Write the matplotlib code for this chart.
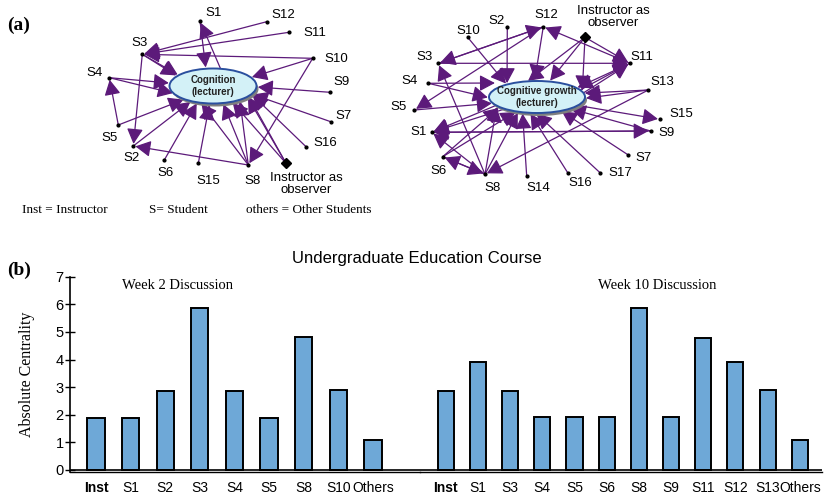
import matplotlib
matplotlib.use('Agg')
import matplotlib.pyplot as plt
from matplotlib.patches import Ellipse, FancyArrowPatch

plt.rcParams['font.family'] = 'Liberation Sans'

# ---- bar chart data (absolute centrality) ----
wk2_labels = ['Inst', 'S1', 'S2', 'S3', 'S4', 'S5', 'S8', 'S10', 'Others']
wk2_vals = [1.88, 1.88, 2.85, 5.85, 2.85, 1.9, 4.8, 2.9, 1.07]
wk10_labels = ['Inst', 'S1', 'S3', 'S4', 'S5', 'S6', 'S8', 'S9', 'S11', 'S12', 'S13', 'Others']
wk10_vals = [2.87, 3.9, 2.87, 1.92, 1.92, 1.92, 5.87, 1.92, 4.78, 3.9, 2.88, 1.1]

# ---- network (a) left: week 2 ----
left_edges = [('S1', 'L', (-5, 0)), ('L', 'S1', (15, 0)),
              ('S12', 'S3'), ('S11', 'S3'), ('S10', 'S3'),
              ('S10', 'L', (10, 0)), ('S10', 'S8'),
              ('S3', 'L', (-20, 0)), ('S3', 'L', (-5, 6)), ('S3', 'S2'),
              ('S4', 'L', (-10, 0)), ('S4', 'L', (-20, 12)),
              ('S5', 'S4'), ('S5', 'L', (-15, 8)),
              ('S2', 'L', (-15, 10)), ('S6', 'L', (-12, 10)), ('S15', 'L', (0, 0)),
              ('S8', 'L', (-25, 0)), ('S8', 'L', (3, 0)), ('S8', 'L', (25, 0)), ('S8', 'S2'),
              ('Inst', 'L', (5, 0)), ('Inst', 'L', (28, 0)), ('Inst', 'L', (31, 2)),
              ('S16', 'L', (30, 0)), ('S7', 'L', (30, 5)), ('S9', 'L', (30, 0))]

# ---- network (a) right: week 10 ----
right_edges = [('S10', 'L', (-20, 0)), ('S2', 'L', (-30, 0)), ('S12', 'L', (-5, 0)),
               ('S12', 'S3'), ('S3', 'S12'), ('S12', 'S5'), ('S11', 'S12'),
               ('Inst', 'S11'), ('S3', 'S11'),
               ('Inst', 'L', (-30, 0)), ('Inst', 'L', (0, 0)), ('Inst', 'L', (45, 0)),
               ('S11', 'L', (20, 0)), ('L', 'S11', (30, 0)), ('L', 'S11', (40, 0)),
               ('S4', 'L', (-40, -14)), ('S4', 'L', (-30, 5)), ('S5', 'L', (-30, 5)),
               ('S13', 'L', (30, -3)), ('S13', 'L', (35, 3)), ('S13', 'S8'),
               ('L', 'S15', (20, 5)), ('S9', 'L', (20, 8)), ('S1', 'S9'), ('S9', 'S1'),
               ('S7', 'L', (15, 8)), ('S17', 'L', (-10, 8)), ('S16', 'L', (-12, 8)),
               ('S14', 'L', (-15, 8)), ('S8', 'L', (-40, 8)), ('S8', 'L', (-15, 8)),
               ('L', 'S1', (-40, 8)), ('L', 'S1', (-20, 8)),
               ('S8', 'S1'), ('S8', 'S3'), ('S6', 'L', (-35, 8)), ('S6', 'L', (-10, 8)),
               ('S8', 'S6'), ('S6', 'S8')]

# layout of the two diagrams (pixel space)
left_pos = {'S1': (200, 21), 'S12': (266.7, 21.7), 'S11': (289, 32.3), 'S3': (142.3, 54.3),
            'S10': (312.7, 58.3), 'S4': (109.3, 77.7), 'S9': (330, 92.3), 'S5': (118.3, 125),
            'S7': (330.7, 121.7), 'S2': (133.3, 146), 'S16': (306, 146.7), 'S6': (164.3, 160),
            'S15': (198.3, 163.3), 'S8': (248.3, 165), 'Inst': (286, 163.3)}
left_lab = {'S1': (214, 13), 'S12': (283, 15), 'S11': (315, 33), 'S3': (140, 43),
            'S10': (336.7, 59.3), 'S4': (95, 72.7), 'S9': (341.7, 82.3), 'S5': (110, 138.3),
            'S7': (343.3, 115.7), 'S2': (131.7, 158.3), 'S16': (325, 143.3), 'S6': (165.7, 173.3),
            'S15': (208.3, 181), 'S8': (252.3, 181), 'Inst': (306, 184)}
right_pos = {'S2': (507.3, 26.7), 'S10': (467.7, 37.3), 'S12': (543.3, 26.7), 'Inst': (585, 37.3),
             'S3': (438.3, 63.3), 'S11': (630, 63.3), 'S4': (428.3, 83.3), 'S13': (648.3, 90),
             'S5': (414.3, 110), 'S15': (660, 119.3), 'S1': (431.7, 132.3), 'S9': (650.7, 131),
             'S6': (442.7, 156.7), 'S7': (628.3, 155), 'S8': (485, 174.3), 'S14': (526.7, 176),
             'S16': (567.7, 172.7), 'S17': (600, 172.7)}
right_lab = {'S2': (496.7, 20.7), 'S10': (468.3, 30.7), 'S12': (546.7, 15), 'Inst': (613, 17),
             'S3': (425, 56.7), 'S11': (641.7, 56.7), 'S4': (410, 80.7), 'S13': (662.3, 81.7),
             'S5': (399, 107), 'S15': (681, 114), 'S1': (418.3, 131.7), 'S9': (666.7, 133.3),
             'S6': (438.3, 170.7), 'S7': (643.3, 158.3), 'S8': (492.3, 188.3), 'S14': (538.3, 188.3),
             'S16': (580, 183.3), 'S17': (620, 173.3)}

PURPLE = '#5c1a7a'


def draw_net(ax, pos, lab, edges, center, w, h, name):
    shadow = Ellipse((center[0] + 2, center[1] + 3), w, h, facecolor='#7f7f7f', edgecolor='none', zorder=3)
    ell = Ellipse(center, w, h, facecolor='#d3f1f7', edgecolor='#2a4f9e', lw=1.4, zorder=4)
    ax.add_patch(shadow)
    ax.add_patch(ell)
    ax.text(center[0], center[1], name, ha='center', va='center', fontsize=7,
            fontweight='bold', color='#222222', zorder=5, linespacing=1.2)
    for e in edges:
        src, dst = e[0], e[1]
        aim = e[2] if len(e) > 2 else (0, 0)
        a = pos[src] if src != 'L' else (center[0] + aim[0], center[1] + aim[1])
        b = pos[dst] if dst != 'L' else (center[0] + aim[0], center[1] + aim[1])
        arr = FancyArrowPatch(a, b, arrowstyle='-|>,head_length=0.85,head_width=0.45',
                              mutation_scale=11, color=PURPLE, lw=0.9,
                              patchA=ell if src == 'L' else None,
                              patchB=ell if dst == 'L' else None,
                              shrinkA=0, shrinkB=1.5, zorder=2)
        ax.add_patch(arr)
    for k, (x, y) in pos.items():
        if k == 'Inst':
            ax.plot(x, y, marker='D', color='black', ms=5.5, zorder=6)
            ax.text(lab[k][0], lab[k][1], 'Instructor as\nobserver', ha='center', va='center',
                    fontsize=9.5, linespacing=0.95)
        else:
            ax.plot(x, y, marker='o', color='black', ms=2, zorder=6)
            ax.text(lab[k][0], lab[k][1], k, ha='center', va='center', fontsize=9.5)


fig = plt.figure(figsize=(8.39, 4.98), dpi=100)
net = fig.add_axes([0, 0, 1, 1])
net.set_xlim(0, 839)
net.set_ylim(498, 0)
net.axis('off')

draw_net(net, left_pos, left_lab, left_edges, (213, 86), 87, 35, 'Cognition\n(lecturer)')
draw_net(net, right_pos, right_lab, right_edges, (537, 97), 96, 32, 'Cognitive growth\n(lecturer)')

serif = 'Liberation Serif'
net.text(7, 25, '(a)', fontsize=14, fontweight='bold', family=serif, va='center')
net.text(7, 270, '(b)', fontsize=14, fontweight='bold', family=serif, va='center')
net.text(22, 209.5, 'Inst = Instructor', family=serif, fontsize=9.5, va='center')
net.text(149, 209.5, 'S= Student', family=serif, fontsize=9.5, va='center')
net.text(246, 209.5, 'others = Other Students', family=serif, fontsize=9.5, va='center')
net.text(417, 258, 'Undergraduate Education Course', ha='center', va='center', fontsize=12)
net.text(177, 285, 'Week 2 Discussion', ha='center', va='center', family=serif, fontsize=10.5)
net.text(657, 285, 'Week 10 Discussion', ha='center', va='center', family=serif, fontsize=10.5)

BLUE = '#6ea8d7'
ax1 = fig.add_axes([70 / 839, 25.8 / 498, 350 / 839, 195.5 / 498])
ax2 = fig.add_axes([420 / 839, 25.8 / 498, 402 / 839, 195.5 / 498])
for ax, labels, vals, lim in [(ax1, wk2_labels, wk2_vals, (-0.75, 9.36)),
                              (ax2, wk10_labels, wk10_vals, (-0.8, 11.69))]:
    ax.patch.set_visible(False)
    x = list(range(len(labels)))
    ax.bar(x, vals, width=0.5, color=BLUE, edgecolor='black', linewidth=1.4, zorder=3)
    ax.axhline(0, color='black', lw=1.2, zorder=4)
    ax.set_xlim(*lim)
    ax.set_ylim(-0.08, 7)
    ax.set_xticks(x)
    ax.set_xticklabels(labels, fontsize=10)
    for t in ax.get_xticklabels():
        if t.get_text() == 'Inst':
            t.set_fontweight('bold')
    ax.tick_params(axis='x', length=0, pad=6)
    for s in ['top', 'right']:
        ax.spines[s].set_visible(False)
    ax.spines['bottom'].set_linewidth(1.0)

ax1.set_yticks(range(8))
ax1.tick_params(axis='y', direction='inout', length=7, width=1, labelsize=10.5, pad=1)
ax1.spines['left'].set_linewidth(1.2)
ax1.set_ylabel('Absolute Centrality', family=serif, fontsize=11.5)
ax1.yaxis.set_label_coords(-0.1, 0.5)
ax2.spines['left'].set_visible(False)
ax2.set_yticks([])

fig.savefig('out.png', dpi=100)
